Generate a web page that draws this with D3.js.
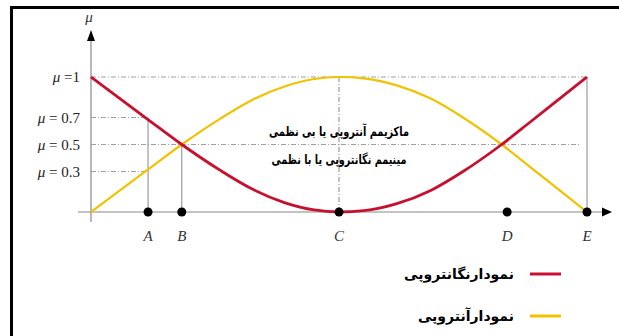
<!DOCTYPE html>
<html>
<head>
<meta charset="utf-8">
<script src="https://cdn.jsdelivr.net/npm/d3@7"></script>
<style>
  body { margin: 0; background: #fff; }
  svg { display: block; }
</style>
</head>
<body>
<svg width="619" height="336"></svg>
<script>
const width = 619, height = 336;
const svg = d3.select("svg");

// sampled curve points (x in 0..1 along axis, value = μ)
const xs = [0, 0.115, 0.183, 0.26, 0.325, 0.39, 0.45, 0.5, 0.55, 0.615, 0.685, 0.75, 0.828, 0.885, 0.95, 1];
const entropy = [0, 0.315, 0.5, 0.69, 0.83, 0.93, 0.985, 1, 0.99, 0.94, 0.84, 0.7, 0.5, 0.335, 0.145, 0];
const negentropy = [1, 0.685, 0.5, 0.31, 0.17, 0.07, 0.015, 0, 0.01, 0.06, 0.16, 0.3, 0.5, 0.665, 0.855, 1];

const pointNames = ["A", "B", "C", "D", "E"];
const pointX = [0.115, 0.183, 0.5, 0.839, 1];

const muTicks = [1, 0.7, 0.5, 0.3];
const muLabels = [" =1", " = 0.7", " = 0.5", " = 0.3"];
const muEnds = [1, 0.115, 0.985, 0.115];

const centerTexts = ["ماکزیمم آنتروپی یا بی نظمی", "مینیمم نگانتروپی یا با نظمی"];
const centerWidths = [140, 135];
const legendNames = ["نمودارنگانتروپی", "نمودارآنتروپی"];
const red = "#c8102e", yellow = "#f2c200";

const x = d3.scaleLinear().domain([0, 1]).range([91, 587]);
const y = d3.scaleLinear().domain([0, 1]).range([212, 77]);

// frame
svg.append("rect").attr("x", 11.5).attr("y", 7.5).attr("width", 640).attr("height", 360)
  .attr("fill", "none").attr("stroke", "#000").attr("stroke-width", 3);

const grey = "#888";

// horizontal reference lines
muTicks.forEach((m, i) => {
  svg.append("line").attr("x1", x(0)).attr("x2", x(muEnds[i]))
    .attr("y1", y(m)).attr("y2", y(m))
    .attr("stroke", grey).attr("stroke-width", 0.8)
    .attr("stroke-dasharray", "5,2,1,2");
  const t = svg.append("text").attr("x", 80).attr("y", y(m) + 5)
    .attr("text-anchor", "end")
    .attr("font-family", "Liberation Serif").attr("font-size", 15)
    .attr("fill", "#222");
  t.append("tspan").attr("font-style", "italic").text("\u03bc");
  t.append("tspan").text(muLabels[i]);
});

// vertical lines at points
const vTop = [0.7, 0.5, 1, null, 1];
pointX.forEach((p, i) => {
  if (vTop[i] == null) return;
  svg.append("line").attr("x1", x(p)).attr("x2", x(p))
    .attr("y1", y(0)).attr("y2", y(vTop[i]))
    .attr("stroke", grey).attr("stroke-width", 1)
    .attr("stroke-dasharray", pointNames[i] === "C" ? "5,2,1,2" : null);
});

// axes
svg.append("line").attr("x1", x(0)).attr("x2", x(0)).attr("y1", 222).attr("y2", 38)
  .attr("stroke", grey).attr("stroke-width", 1.2);
svg.append("path").attr("d", `M${x(0)},30 L${x(0) - 4},41 L${x(0) + 4},41 Z`).attr("fill", "#000");
svg.append("text").attr("x", x(0) - 2).attr("y", 22).attr("text-anchor", "middle")
  .attr("font-family", "Liberation Serif").attr("font-style", "italic").attr("font-size", 15)
  .attr("fill", "#333").text("\u03bc");

svg.append("line").attr("x1", 78).attr("x2", 604).attr("y1", y(0)).attr("y2", y(0))
  .attr("stroke", grey).attr("stroke-width", 1.2);
svg.append("path").attr("d", `M612,${y(0)} L602,${y(0) - 4.5} L602,${y(0) + 4.5} Z`).attr("fill", "#000");

// curves
const line = (vals) => d3.line()
  .x((d, i) => x(xs[i]))
  .y(d => y(d))
  .curve(d3.curveMonotoneX)(vals);

svg.append("path").attr("d", line(entropy)).attr("fill", "none")
  .attr("stroke", yellow).attr("stroke-width", 2.2);
svg.append("path").attr("d", line(negentropy)).attr("fill", "none")
  .attr("stroke", red).attr("stroke-width", 2.8);

// points
svg.selectAll("circle.pt").data(pointX).join("circle").attr("class", "pt")
  .attr("cx", d => x(d)).attr("cy", y(0)).attr("r", 4.5).attr("fill", "#000");
svg.selectAll("text.pt").data(pointX).join("text").attr("class", "pt")
  .attr("x", d => x(d)).attr("y", 241).attr("text-anchor", "middle")
  .attr("font-family", "Liberation Serif").attr("font-style", "italic").attr("font-size", 15)
  .attr("fill", "#333").text((d, i) => pointNames[i]);

// center texts
centerTexts.forEach((t, i) => {
  svg.append("text").attr("x", 339).attr("y", 136 + i * 28).attr("text-anchor", "middle")
    .attr("direction", "rtl")
    .attr("textLength", centerWidths[i]).attr("lengthAdjust", "spacingAndGlyphs")
    .attr("font-family", "DejaVu Sans").attr("font-weight", "bold").attr("font-size", 13)
    .attr("fill", "#000").text(t);
});

// legend
[red, yellow].forEach((c, i) => {
  const ly = 274 + i * 42;
  svg.append("line").attr("x1", 530).attr("x2", 561).attr("y1", ly).attr("y2", ly)
    .attr("stroke", c).attr("stroke-width", 3);
  svg.append("text").attr("x", 514).attr("y", ly + 5).attr("text-anchor", "start")
    .attr("direction", "rtl")
    .attr("font-family", "DejaVu Sans").attr("font-weight", "bold").attr("font-size", 14)
    .attr("fill", "#000").text(legendNames[i]);
});
</script>
</body>
</html>
